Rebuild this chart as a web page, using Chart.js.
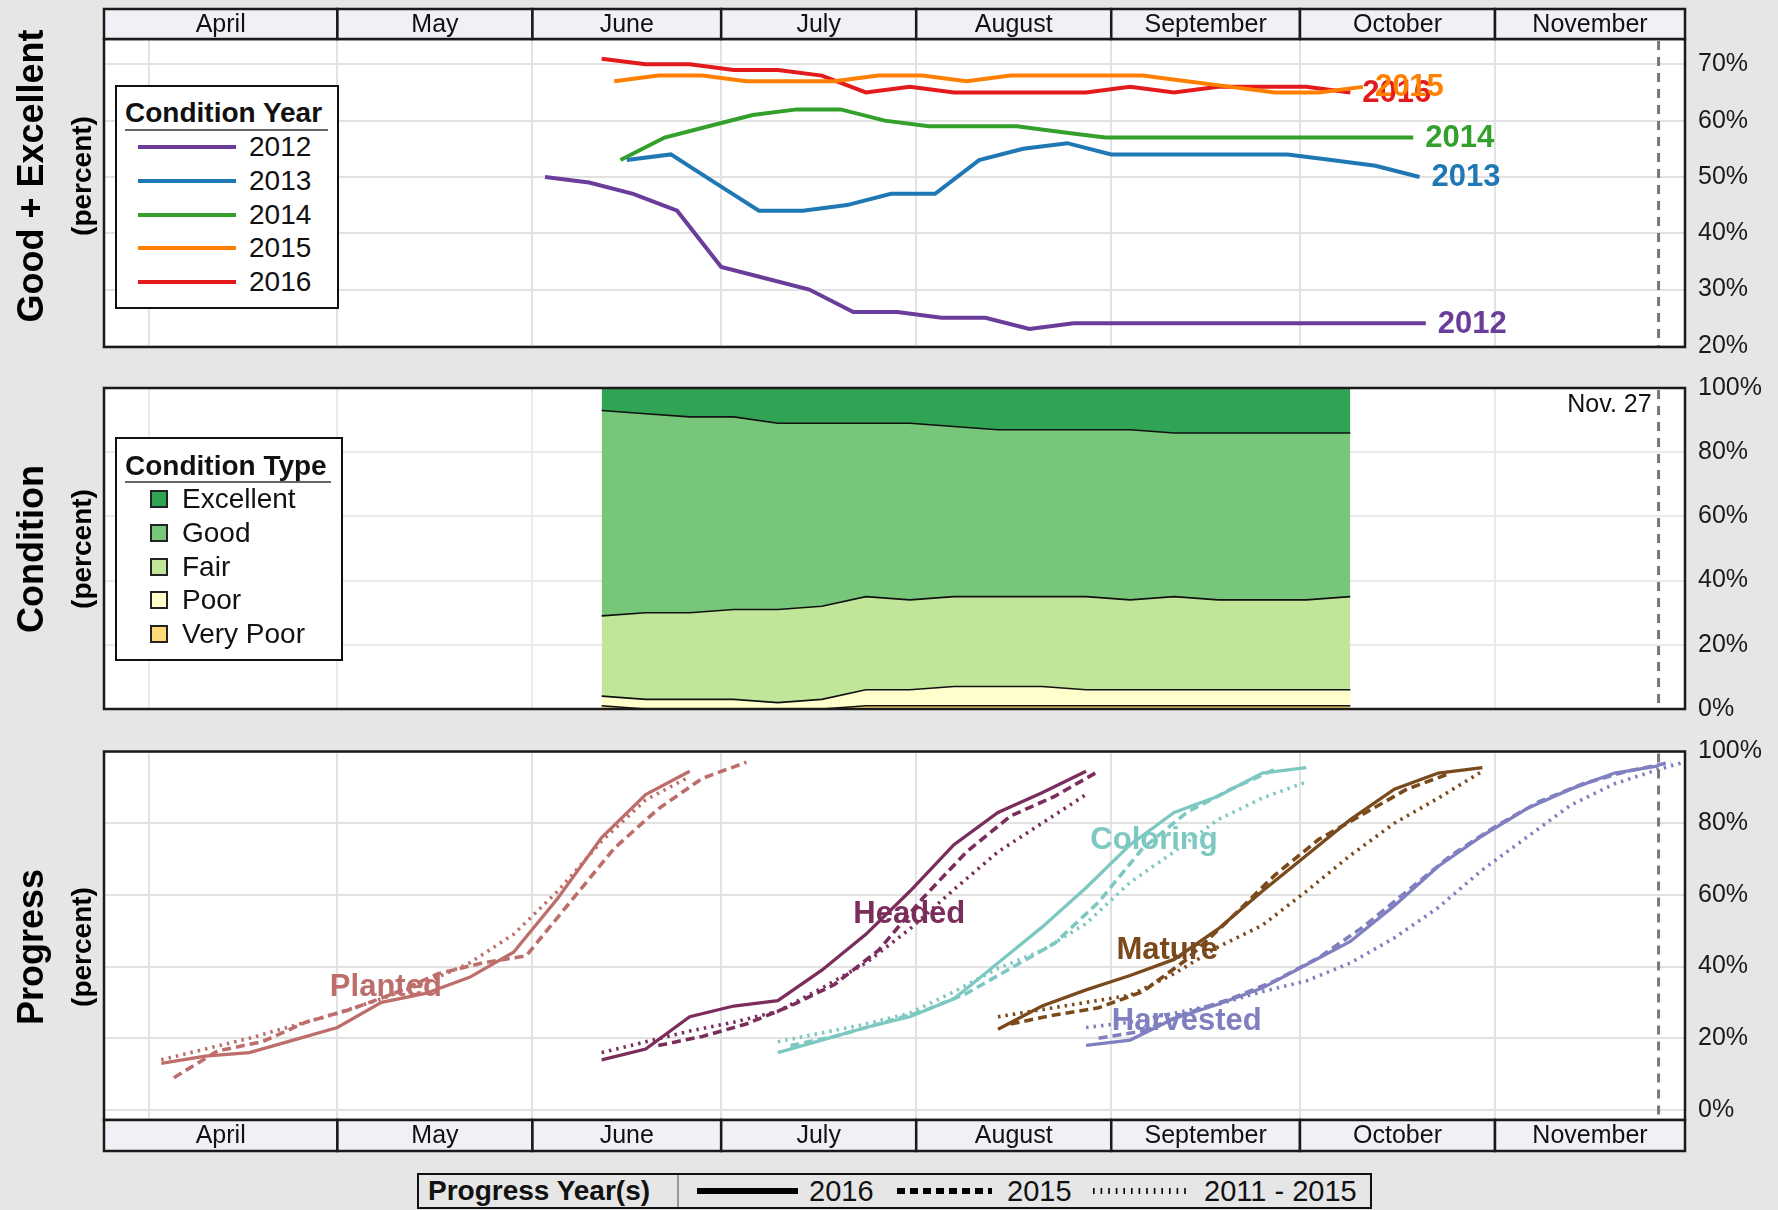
<!DOCTYPE html>
<html><head><meta charset="utf-8">
<script src="https://cdn.jsdelivr.net/npm/chart.js@4.4.0/dist/chart.umd.min.js"></script>
<style>
html,body{margin:0;padding:0;background:#e6e6e6;}
body{width:1778px;height:1210px;position:relative;overflow:hidden;font-family:"Liberation Sans",Arial,sans-serif;color:#111;}
canvas{position:absolute;left:0;}
.t{position:absolute;white-space:nowrap;line-height:1;transform:translateY(-50%);}
.rot{position:absolute;white-space:nowrap;line-height:1;font-weight:bold;color:#000;transform:translate(-50%,-50%) rotate(-90deg);}
</style></head>
<body>
<canvas id="c1" width="1778" height="380" style="top:0px"></canvas>
<canvas id="c2" width="1778" height="390" style="top:352px"></canvas>
<canvas id="c3" width="1778" height="450" style="top:720px"></canvas>
<script>
// ---------- axis data (days counted from April 1) ----------
const monthNames = ['April','May','June','July','August','September','October','November'];
const monthStartDays = [0, 30, 61, 91, 122, 153, 183, 214];
const axisStartDay = -7.1, axisEndDay = 244.2;
const markerDay = 240, markerLabel = 'Nov. 27';

// ---------- Good + Excellent by condition year ----------
const conditionYears = ['2012','2013','2014','2015','2016'];
const conditionYearColors = ['#6a3d9a','#1f78b4','#33a02c','#ff7f00','#e31a1c'];
const conditionFirstWeek = [63, 76, 75, 74, 72];
const ge2012 = [50,49,47,44,34,32,30,26,26,25,25,23,24,24,24,24,24,24,24,24,24];
const ge2013 = [53,54,49,44,44,45,47,47,53,55,56,54,54,54,54,54,53,52,50];
const ge2014 = [53,57,59,61,62,62,60,59,59,59,58,57,57,57,57,57,57,57,57];
const ge2015 = [67,68,68,67,67,67,68,68,67,68,68,68,68,67,66,65,65,66];
const ge2016 = [71,70,70,69,69,68,65,66,65,65,65,65,66,65,66,66,66,65];
const geTicks = [20,30,40,50,60,70];

// ---------- 2016 condition breakdown ----------
const conditionTypes = ['Very Poor','Poor','Fair','Good','Excellent'];
const conditionTypeColors = ['#fed976','#ffffcc','#c2e699','#78c679','#31a354'];
const condFirstWeek = 72;
const condVeryPoor  = [1,0,0,0,0,0,1,1,1,1,1,1,1,1,1,1,1,1];
const condPoor      = [3,3,3,3,2,3,5,5,6,6,6,5,5,5,5,5,5,5];
const condFair      = [25,27,27,28,29,29,29,28,28,28,28,29,28,29,28,28,28,29];
const condGood      = [64,62,61,60,58,57,54,55,53,52,52,52,53,51,52,52,52,51];
const condExcellent = [7,8,9,9,11,11,11,11,12,13,13,13,13,14,14,14,14,14];
const condTicks = [0,20,40,60,80,100];

// ---------- progress ----------
const stageNames = ['Planted','Headed','Coloring','Mature','Harvested'];
const stageColors = ['#bd6e6b','#7b2d5b','#7ec8c2','#7a4a1c','#8080c0'];
const progressYearLabels = ['2016','2015','2011 - 2015'];
// first week (days from Apr 1) and weekly values: [2016, 2015, 2011-2015 avg]
const plantedStart = [2, 4, 2];
const planted2016 = [13,15,16,19.5,23,30,32.5,37,44,59,76,88,94.5];
const planted2015 = [9,16.5,19,24.5,28,32.5,38,41,43,58,73,84,92.5,97];
const plantedAvg  = [14,17,20,23.5,27,31,35.5,41,49,61,75,86.5,93];
const headedStart = [72, 81, 72];
const headed2016 = [14,17,26,29,30.5,39,49,61,74,83,88.5,94.5];
const headed2015 = [18,20.5,24,29,35,44.5,59,72,82,87.5,94.5];
const headedAvg  = [16,19,22,24.5,27.5,34,41,50.5,61.5,72,80,88];
const coloringStart = [100, 102, 100];
const coloring2016 = [16,19.5,23,26,31,41,51,62,74,83,87.5,94,95.5];
const coloring2015 = [18,20.5,24,27.5,32.5,39.5,46.5,58,73,83,89.5,95];
const coloringAvg  = [19,21.5,24,27,33,39.5,44.5,52,63.5,72,81,87,91.5];
const matureStart = [135, 137, 135];
const mature2016 = [22.5,29,33.5,37.5,42,50.5,61,71,81,89.5,94,95.5];
const mature2015 = [24,26.5,28.5,33,42,53.5,65.5,75.5,82.5,89.5,94];
const matureAvg  = [26,28,30,32,38,45.5,51.5,61,71,80,87,94.5];
const harvestedStart = [149, 151, 149];
const harvested2016 = [18,19.5,25.5,29.5,34,40.5,47,57,68,76.5,84,89.5,94,96];
const harvested2015 = [20,22,27,31,36,42.5,51,61,71,79,86,91,94.5,97];
const harvestedAvg  = [23,24.5,27,29.5,33,36,41,48,56.5,67,76,85,91,95,98.5];
// stage name annotations: [day, percent]
const stageLabelAt = [[37.7,34.3],[120.9,54.6],[159.8,75.2],[161.9,44.6],[165,24.6]];
const progTicks = [0,20,40,60,80,100];

// ---------- helpers ----------
const FONT = '"Liberation Sans", Arial, sans-serif';
const weekly = (start, vals) => vals.map((v, i) => ({x: start + 7 * i, y: v}));

const decor = {
  id: 'decor',
  beforeDraw(chart) {
    const a = chart.chartArea, c = chart.ctx;
    c.save(); c.fillStyle = '#fff';
    c.fillRect(a.left, a.top, a.right - a.left, a.bottom - a.top); c.restore();
  },
  beforeDatasetsDraw(chart, args, o) {
    if (!o.stageLabels) return;
    const c = chart.ctx, x = chart.scales.x, y = chart.scales.y;
    c.save();
    c.font = 'bold 31px ' + FONT; c.textAlign = 'center'; c.textBaseline = 'middle';
    stageNames.forEach((n, i) => {
      c.fillStyle = stageColors[i];
      c.fillText(n, x.getPixelForValue(stageLabelAt[i][0]), y.getPixelForValue(stageLabelAt[i][1]));
    });
    c.restore();
  },
  afterDatasetsDraw(chart, args, o) {
    if (!o.endLabels) return;
    const c = chart.ctx;
    c.save();
    c.font = 'bold 31px ' + FONT; c.textAlign = 'left'; c.textBaseline = 'middle';
    for (let i = chart.data.datasets.length - 1; i >= 0; i--) {
      const ds = chart.data.datasets[i];
      const meta = chart.getDatasetMeta(i);
      const last = meta.data[meta.data.length - 1];
      c.fillStyle = ds.borderColor;
      c.fillText(ds.label, last.x + 12, last.y + 1);
    }
    c.restore();
  },
  afterDraw(chart, args, o) {
    const c = chart.ctx, a = chart.chartArea, x = chart.scales.x;
    const mx = x.getPixelForValue(markerDay);
    c.save();
    c.strokeStyle = '#777'; c.lineWidth = 3; c.setLineDash([9, 7]);
    c.beginPath(); c.moveTo(mx, a.top + 2); c.lineTo(mx, a.bottom); c.stroke();
    c.setLineDash([]);
    if (o.markerText) {
      c.fillStyle = '#111'; c.font = '25px ' + FONT; c.textAlign = 'right'; c.textBaseline = 'middle';
      c.fillText(markerLabel, mx - 7, a.top + 17);
    }
    c.strokeStyle = '#1a1a1a'; c.lineWidth = 2.5;
    c.strokeRect(a.left, a.top, a.right - a.left, a.bottom - a.top);
    if (o.header) {
      const h = o.header === 'top' ? 30 : 31;
      const y0 = o.header === 'top' ? a.top - h : a.bottom;
      c.font = '25px ' + FONT; c.textAlign = 'center'; c.textBaseline = 'middle';
      for (let i = 0; i < monthNames.length; i++) {
        const x0 = i === 0 ? a.left : x.getPixelForValue(monthStartDays[i]);
        const x1 = i === monthNames.length - 1 ? a.right : x.getPixelForValue(monthStartDays[i + 1]);
        c.fillStyle = '#f0f0f6'; c.fillRect(x0, y0, x1 - x0, h);
        c.strokeStyle = '#1a1a1a'; c.lineWidth = 2.5; c.strokeRect(x0, y0, x1 - x0, h);
        c.fillStyle = '#111'; c.fillText(monthNames[i], (x0 + x1) / 2, y0 + h / 2 + 1);
      }
    }
    c.restore();
  }
};

function makeOptions(padding, yMin, yMax, yTicks, decorOpts, gridOnTop, stacked) {
  return {
    responsive: false, animation: false, devicePixelRatio: 1,
    layout: { padding },
    plugins: { legend: { display: false }, tooltip: { enabled: false }, decor: decorOpts },
    elements: { point: { radius: 0 }, line: { tension: 0 } },
    scales: {
      x: {
        type: 'linear', min: axisStartDay, max: axisEndDay, z: gridOnTop ? 1 : 0,
        afterBuildTicks: s => { s.ticks = monthStartDays.map(v => ({ value: v })); },
        ticks: { display: false },
        grid: { color: gridOnTop ? 'rgba(232,232,232,0.9)' : '#e2e2e2', lineWidth: 2, drawTicks: false },
        border: { display: false },
        afterFit: s => { s.height = 0; }
      },
      y: {
        type: 'linear', position: 'right', min: yMin, max: yMax, stacked: !!stacked, z: gridOnTop ? 1 : 0,
        afterBuildTicks: s => { s.ticks = yTicks.map(v => ({ value: v })); },
        ticks: { callback: v => v + '%', color: '#1a1a1a', font: { family: FONT, size: 25 }, padding: 13 },
        grid: { color: gridOnTop ? 'rgba(232,232,232,0.9)' : '#e2e2e2', lineWidth: 2, drawTicks: false },
        border: { display: false },
        afterFit: s => { s.width = 93; }
      }
    }
  };
}

// ---------- chart 1: Good + Excellent ----------
const geSeries = [ge2012, ge2013, ge2014, ge2015, ge2016];
new Chart(document.getElementById('c1'), {
  type: 'line',
  data: { datasets: conditionYears.map((yr, i) => ({
    label: yr, data: weekly(conditionFirstWeek[i], geSeries[i]),
    borderColor: conditionYearColors[i], backgroundColor: conditionYearColors[i],
    borderWidth: 4, pointRadius: 0, fill: false
  })) },
  options: makeOptions({ left: 104, top: 39, right: 0, bottom: 33 }, 19.8, 74.5, geTicks,
    { header: 'top', endLabels: true }, false, false),
  plugins: [decor]
});

// ---------- chart 2: condition breakdown ----------
const condSeries = [condVeryPoor, condPoor, condFair, condGood, condExcellent];
new Chart(document.getElementById('c2'), {
  type: 'line',
  data: { datasets: conditionTypes.map((t, i) => ({
    label: t, data: weekly(condFirstWeek, condSeries[i]),
    backgroundColor: conditionTypeColors[i], borderColor: '#111',
    borderWidth: i === 4 ? 0 : 1.6, pointRadius: 0, fill: i === 0 ? 'origin' : '-1'
  })) },
  options: makeOptions({ left: 104, top: 36, right: 0, bottom: 33 }, 0, 100, condTicks,
    { markerText: true }, true, true),
  plugins: [decor]
});

// ---------- chart 3: progress ----------
const stageStarts = [plantedStart, headedStart, coloringStart, matureStart, harvestedStart];
const stageSeries = [
  [planted2016, planted2015, plantedAvg],
  [headed2016, headed2015, headedAvg],
  [coloring2016, coloring2015, coloringAvg],
  [mature2016, mature2015, matureAvg],
  [harvested2016, harvested2015, harvestedAvg]
];
const yearDash = [[], [9, 5], [2.5, 5]];
const progDatasets = [];
stageNames.forEach((n, s) => {
  progressYearLabels.forEach((yl, k) => {
    progDatasets.push({
      label: n + ' ' + yl, data: weekly(stageStarts[s][k], stageSeries[s][k]),
      borderColor: stageColors[s], backgroundColor: stageColors[s],
      borderWidth: k === 0 ? 3.3 : 3.6, borderDash: yearDash[k], borderCapStyle: 'butt',
      pointRadius: 0, fill: false
    });
  });
});
new Chart(document.getElementById('c3'), {
  type: 'line',
  data: { datasets: progDatasets },
  options: makeOptions({ left: 104, top: 31.5, right: 0, bottom: 50 }, -2.8, 100, progTicks,
    { header: 'bottom', stageLabels: true }, false, false),
  plugins: [decor]
});

// ---------- HTML text: axis titles and legends ----------
function el(style, text, cls) {
  const d = document.createElement('div');
  if (cls) d.className = cls;
  d.style.position = 'absolute';
  Object.assign(d.style, style);
  if (text != null) d.textContent = text;
  document.body.appendChild(d);
  return d;
}
function txt(text, left, cy, size, bold) {
  return el({ left: left + 'px', top: cy + 'px', fontSize: size + 'px', fontWeight: bold ? 'bold' : 'normal' }, text, 't');
}
function rot(text, cx, cy, size) {
  return el({ left: cx + 'px', top: cy + 'px', fontSize: size + 'px' }, text, 'rot');
}
const panelTitles = [['Good + Excellent', 176], ['Condition', 549], ['Progress', 947]];
panelTitles.forEach(([t, cy]) => { rot(t, 31, cy, 36); rot('(percent)', 82, cy, 28); });

// Condition Year legend
el({ left: '115px', top: '85px', width: '224px', height: '224px', border: '2px solid #111', background: '#fff', boxSizing: 'border-box' });
txt('Condition Year', 125, 113, 28, true);
el({ left: '125px', top: '129px', width: '203px', height: '2px', background: '#666' });
conditionYears.forEach((yr, i) => {
  const cy = 147 + 33.75 * i;
  el({ left: '138px', top: (cy - 2) + 'px', width: '98px', height: '4px', background: conditionYearColors[i] });
  txt(yr, 249, cy, 28, false);
});

// Condition Type legend (top to bottom: Excellent ... Very Poor)
el({ left: '115px', top: '437px', width: '228px', height: '224px', border: '2px solid #111', background: '#fff', boxSizing: 'border-box' });
txt('Condition Type', 125, 466, 28, true);
el({ left: '125px', top: '481px', width: '206px', height: '2px', background: '#666' });
conditionTypes.slice().reverse().forEach((t, i) => {
  const cy = 499 + 33.75 * i;
  const col = conditionTypeColors[conditionTypes.length - 1 - i];
  el({ left: '150px', top: (cy - 9) + 'px', width: '18px', height: '18px', background: col, border: '2px solid #222', boxSizing: 'border-box' });
  txt(t, 182, cy, 28, false);
});

// Progress Year(s) legend
el({ left: '417px', top: '1173px', width: '955px', height: '36px', border: '2px solid #111', boxSizing: 'border-box' });
txt('Progress Year(s)', 428, 1191, 28, true);
el({ left: '677px', top: '1175px', width: '2px', height: '32px', background: '#999' });
const sampleX = [[697, 798, 809], [897, 992, 1007], [1093, 1190, 1204]];
const sampleDash = ['', '8 5', '1.6 6'];
progressYearLabels.forEach((yl, k) => {
  const [x1, x2, tx] = sampleX[k];
  const ns = 'http://www.w3.org/2000/svg';
  const svg = document.createElementNS(ns, 'svg');
  svg.setAttribute('width', x2 - x1); svg.setAttribute('height', 12);
  svg.style.position = 'absolute'; svg.style.left = x1 + 'px'; svg.style.top = '1185px';
  const ln = document.createElementNS(ns, 'line');
  ln.setAttribute('x1', 0); ln.setAttribute('x2', x2 - x1); ln.setAttribute('y1', 6); ln.setAttribute('y2', 6);
  ln.setAttribute('stroke', '#000'); ln.setAttribute('stroke-width', 6);
  if (sampleDash[k]) ln.setAttribute('stroke-dasharray', sampleDash[k]);
  svg.appendChild(ln); document.body.appendChild(svg);
  txt(yl, tx, 1191, 29, false);
});
</script>
</body></html>
